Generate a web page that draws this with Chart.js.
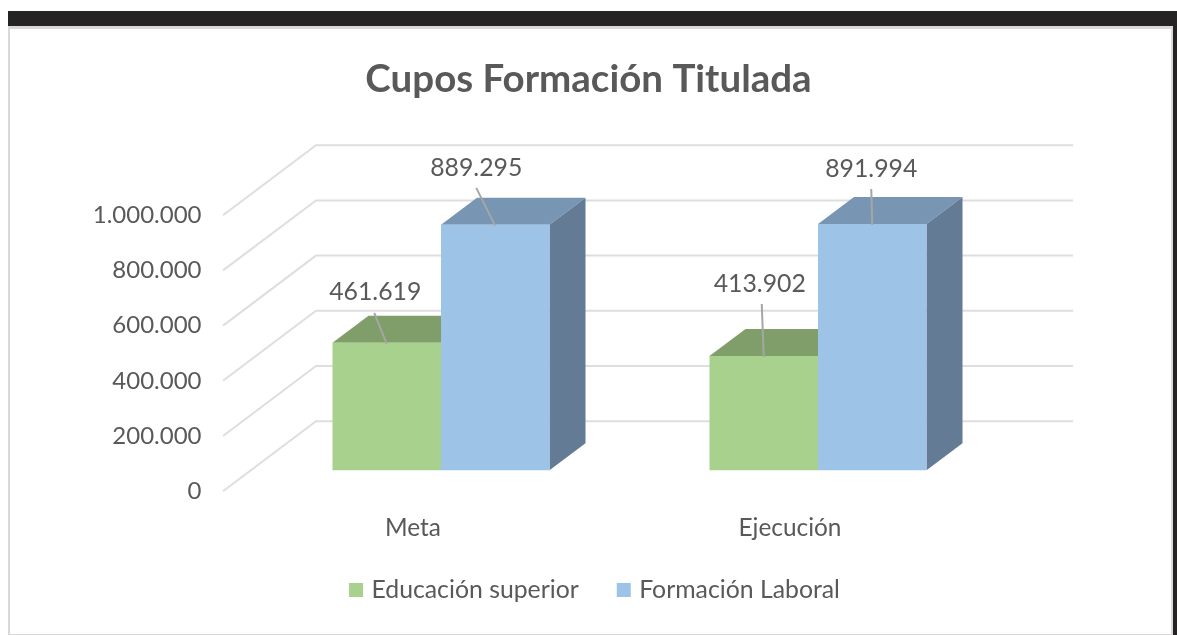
<!DOCTYPE html>
<html><head><meta charset="utf-8">
<script src="https://cdn.jsdelivr.net/npm/chart.js@4"></script>
<style>
html,body{margin:0;padding:0;background:#fff;width:1177px;height:635px;overflow:hidden}
#dark{position:absolute;left:8px;top:11px;right:0;bottom:0;background:#262324}
#panel{position:absolute;left:8px;top:26px;width:1161px;height:605px;background:#fff;border:2px solid #d9d9d9;border-top-width:3px;border-bottom-width:2px;box-sizing:content-box}
#wrap{position:absolute;left:0;top:0;width:1177px;height:635px}
</style></head><body>
<div id="dark"></div><div id="panel"></div>
<div id="wrap"><canvas id="c" width="1177" height="635"></canvas></div>
<script>
const categories = ['Meta', 'Ejecución'];
const educacionSuperior = [461619, 413902];
const formacionLaboral = [889295, 891994];
const yTickStep = 200000;

const FONT = 'Lato, Carlito, sans-serif';
const TEXT = '#595959';
const fmt = v => String(v).replace(/\B(?=(\d{3})+$)/g, '.');

// layout of the 3D look (pixels)
const GEO = {
  left: 252.5, right: 1006.5, plotBottom: 491,
  wallDx: 93, wallDy: -70, frontDx: -29.5, wallEnd: 1073,
  barDx: 36, barDy: -27
};
const labelLayout = [
  [{lx:-11.5,ly:-51,sx:-12.5,sy:-30},{lx:-4,ly:-72,sx:-2,sy:-52}],
  [{lx:-19,ly:-57,sx:-19,sy:-37},{lx:-1,ly:-55,sx:-1,sy:-35}]
];
const shades = [{top:'#7f9e69',side:'#7f9e69'},{top:'#7896b4',side:'#647b95'}];

const poly = (ctx, pts, fill) => {
  ctx.beginPath(); pts.forEach((p,i)=> i?ctx.lineTo(p[0],p[1]):ctx.moveTo(p[0],p[1]));
  ctx.closePath(); ctx.fillStyle = fill; ctx.fill();
};

const threeD = {
  id: 'threeD',
  afterLayout(chart){
    const lg = chart.legend;
    lg.left += 8; lg.right += 8;
    const h = lg.bottom - lg.top;
    lg.top = 535.6; lg.bottom = lg.top + h;
  },
  beforeDatasetsDraw(chart){
    const {ctx} = chart;
    const yF = chart.scales.yFront;
    ctx.save();
    ctx.strokeStyle = '#dedede'; ctx.lineWidth = 2;
    yF.ticks.forEach(t => {
      const y = yF.getPixelForValue(t.value);
      const x0 = GEO.left + GEO.frontDx;
      ctx.beginPath();
      ctx.moveTo(x0, y);
      ctx.lineTo(x0 + GEO.wallDx, y + GEO.wallDy);
      ctx.lineTo(GEO.wallEnd, y + GEO.wallDy);
      ctx.stroke();
    });
    chart.data.datasets.forEach((ds, di) => {
      chart.getDatasetMeta(di).data.forEach(bar => {
        const w = bar.width/2, l = bar.x-w, r = bar.x+w, t = bar.y, b = bar.base;
        const dx = GEO.barDx, dy = GEO.barDy;
        poly(ctx, [[l,t],[r,t],[r+dx,t+dy],[l+dx,t+dy]], shades[di].top);
        poly(ctx, [[r,t],[r+dx,t+dy],[r+dx,b+dy],[r,b]], shades[di].side);
      });
    });
    ctx.restore();
  },
  afterDatasetsDraw(chart){
    const {ctx} = chart;
    ctx.save();
    chart.data.datasets.forEach((ds, di) => {
      chart.getDatasetMeta(di).data.forEach((bar, i) => {
        const L = labelLayout[di][i];
        ctx.strokeStyle = '#a6a6a6'; ctx.lineWidth = 2;
        ctx.beginPath(); ctx.moveTo(bar.x+L.sx, bar.y+L.sy); ctx.lineTo(bar.x, bar.y+1); ctx.stroke();
        ctx.fillStyle = TEXT; ctx.font = '24.8px '+FONT;
        ctx.textAlign = 'center'; ctx.textBaseline = 'middle';
        ctx.fillText(fmt(ds.data[i]), bar.x+L.lx, bar.y+L.ly);
      });
    });
    ctx.restore();
  }
};

new Chart(document.getElementById('c'), {
  type: 'bar',
  data: {
    labels: categories,
    datasets: [
      {label:'Educación superior', data: educacionSuperior, backgroundColor:'#a9d18e', yAxisID:'y', categoryPercentage:0.5756, barPercentage:1},
      {label:'Formación Laboral', data: formacionLaboral, backgroundColor:'#9dc3e6', yAxisID:'y', categoryPercentage:0.5756, barPercentage:1}
    ]
  },
  plugins: [threeD],
  options: {
    responsive:false, animation:false,
    layout:{padding:{top:0,bottom:0,left:0,right:0}},
    plugins:{
      tooltip:{enabled:false},
      title:{display:true,text:'Cupos Formación Titulada',color:TEXT,
        font:{family:FONT,size:38.5,weight:'bold',lineHeight:1.2},
        padding:{top:56,bottom:113}},
      legend:{position:'bottom',
        labels:{color:TEXT,usePointStyle:true,pointStyle:'rect',boxWidth:6,boxHeight:14,padding:42,font:{family:FONT,size:24.8}}}
    },
    scales:{
      x:{
        grid:{display:false},border:{display:false},
        ticks:{color:TEXT,padding:14,labelOffset:-28,font:{family:FONT,size:24.4},maxRotation:0},
        afterFit(s){ s.height = 67; }
      },
      y:{display:false,min:-75812,max:924188},
      yFront:{
        position:'left',min:0,max:1000000,
        grid:{display:false},border:{display:false},
        ticks:{stepSize:yTickStep,color:TEXT,padding:43,font:{family:FONT,size:24},callback:v=>fmt(v)},
        afterFit(s){ s.width = GEO.left; }
      },
      yPad:{
        position:'right',grid:{display:false},border:{display:false},ticks:{display:false},
        afterFit(s){ s.width = 1177-GEO.right; }
      }
    }
  }
});
</script></body></html>
